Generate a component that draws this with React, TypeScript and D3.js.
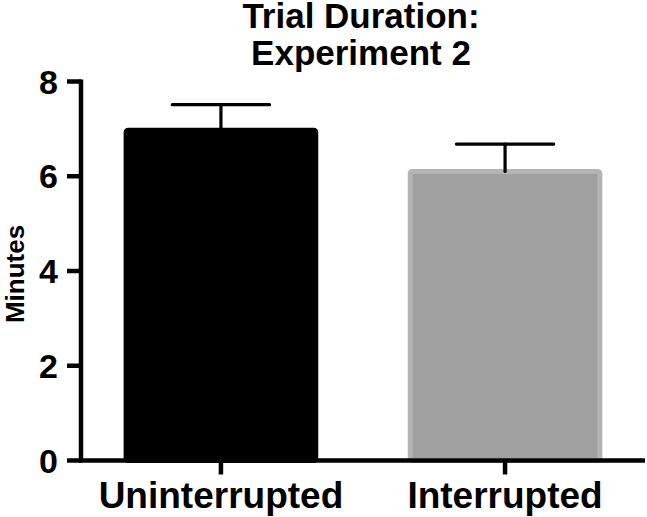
import React from "react";
import * as d3 from "d3";

const categories = ["Uninterrupted", "Interrupted"];
const means = [6.97, 6.1];
const sems = [0.54, 0.58];
const yTicks = [0, 2, 4, 6, 8];
const titleLines = ["Trial Duration:", "Experiment 2"];
const yLabel = "Minutes";
const barFills = ["#000000", "#a0a0a0"];
const barStrokes = ["#000000", "#b4b4b4"];

const FONT = "'Liberation Sans', Arial, Helvetica, sans-serif";

export default function App() {
  const W = 647;
  const H = 517;
  const x0 = 81;
  const x1 = 645;
  const yTop = 81.5;
  const yBot = 460.5;

  const x = d3
    .scaleBand<string>()
    .domain(categories)
    .range([x0, x1])
    .paddingInner(0.315)
    .paddingOuter(0.15);
  const y = d3.scaleLinear().domain([0, 8]).range([yBot, yTop]);
  const bw = x.bandwidth();
  const sw = 5;

  return (
    <svg
      width={W}
      height={H}
      style={{ position: "absolute", left: 0, top: 0, background: "#fff", display: "block" }}
    >
      <rect x={0} y={0} width={W} height={H} fill="#fff" />
      {/* title */}
      {titleLines.map((t, i) => (
        <text
          key={t}
          x={361}
          y={28 + i * 37}
          textAnchor="middle"
          fontFamily={FONT}
          fontWeight="bold"
          fontSize={35}
        >
          {t}
        </text>
      ))}

      {/* bars */}
      {categories.map((c, i) => {
        const bx = (x(c) as number) + sw / 2;
        const by = y(means[i]);
        return (
          <rect
            key={c}
            x={bx}
            y={by}
            width={bw - sw}
            height={y(0) - by}
            rx={2}
            fill={barFills[i]}
            stroke={barStrokes[i]}
            strokeWidth={sw}
          />
        );
      })}

      {/* error bars */}
      {categories.map((c, i) => {
        const cx = (x(c) as number) + bw / 2;
        const top = y(means[i] + sems[i]);
        return (
          <g key={"e" + c} stroke="#000" strokeWidth={3.2} strokeLinecap="round">
            <line x1={cx} x2={cx} y1={y(means[i])} y2={top} />
            <line x1={cx - bw / 4} x2={cx + bw / 4} y1={top} y2={top} />
          </g>
        );
      })}

      {/* y axis */}
      <line x1={x0} x2={x0} y1={yTop - 2} y2={yBot + 2} stroke="#000" strokeWidth={4.5} />
      {yTicks.map((t) => (
        <g key={"yt" + t}>
          <line x1={x0 - 14} x2={x0} y1={y(t)} y2={y(t)} stroke="#000" strokeWidth={4.5} />
          <text
            x={58}
            y={y(t)}
            dy="0.36em"
            textAnchor="end"
            fontFamily={FONT}
            fontWeight="bold"
            fontSize={34}
          >
            {t}
          </text>
        </g>
      ))}

      {/* x axis */}
      <line x1={x0 - 2} x2={x1} y1={yBot} y2={yBot} stroke="#000" strokeWidth={4.5} />
      {categories.map((c) => {
        const cx = (x(c) as number) + bw / 2;
        return (
          <g key={"xt" + c}>
            <line x1={cx} x2={cx} y1={yBot} y2={yBot + 14} stroke="#000" strokeWidth={4.5} />
            <text
              x={cx}
              y={508}
              textAnchor="middle"
              fontFamily={FONT}
              fontWeight="bold"
              fontSize={37}
            >
              {c}
            </text>
          </g>
        );
      })}

      {/* y label */}
      <text
        transform={`translate(24,274) rotate(-90)`}
        textAnchor="middle"
        fontFamily={FONT}
        fontWeight="bold"
        fontSize={26}
      >
        {yLabel}
      </text>
    </svg>
  );
}
